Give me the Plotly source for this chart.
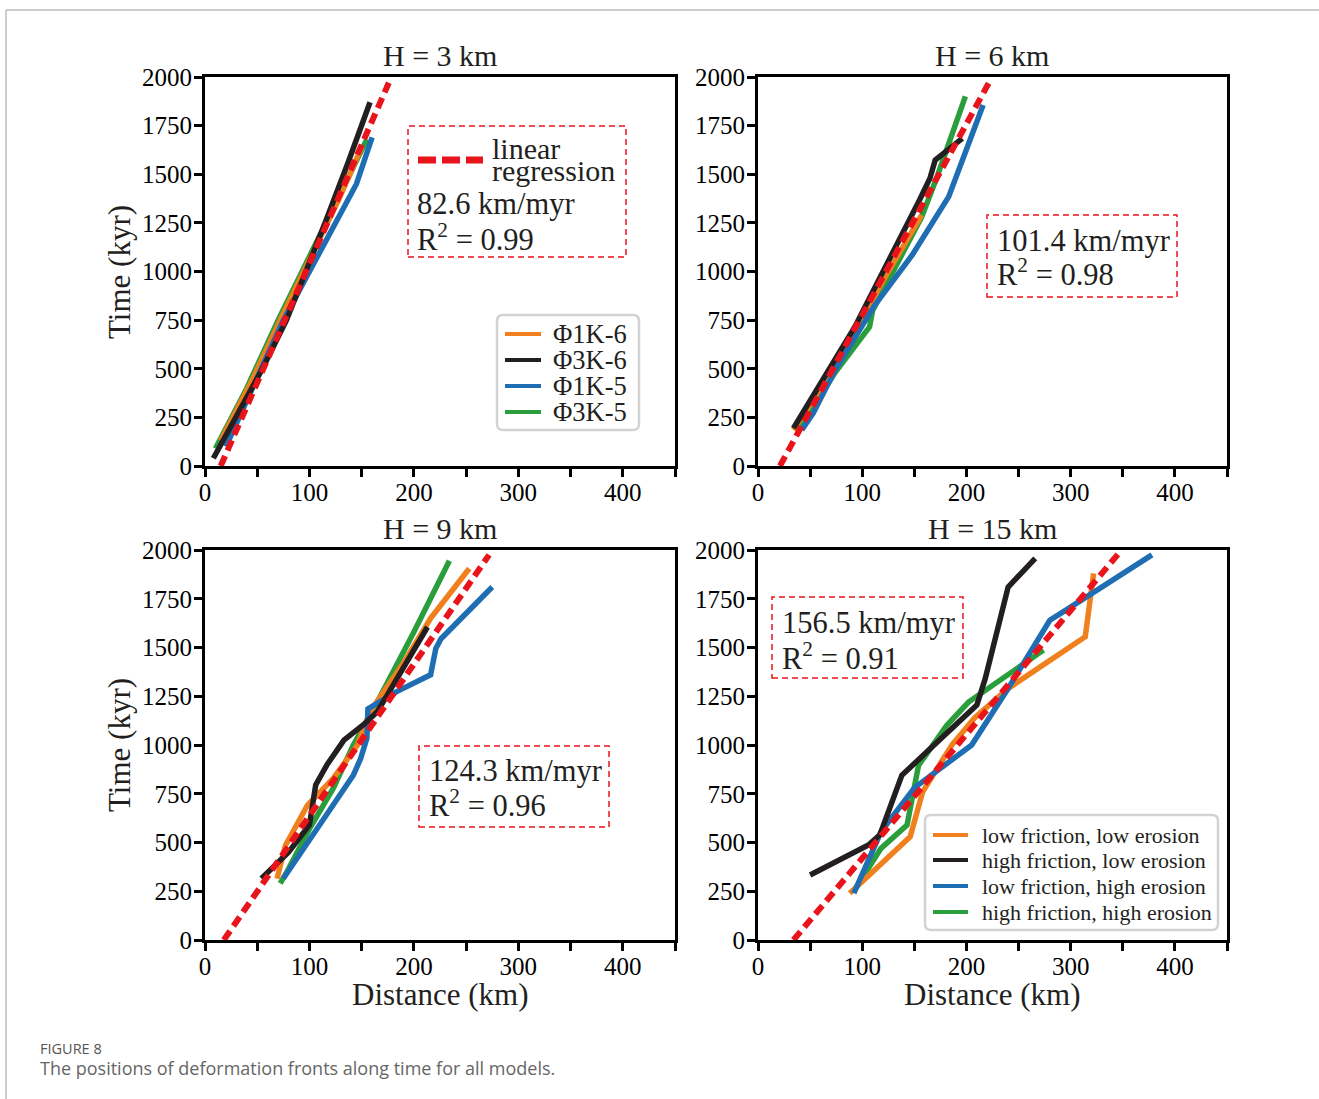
import plotly.graph_objects as go

W, H = 1319, 1099

# ---------------- data (distance km, time kyr) ----------------
# H = 3 km
h3_orange_x = [15, 45, 72, 100, 128, 150]
h3_orange_t = [130, 440, 750, 1060, 1370, 1640]
h3_black_x = [8, 30, 55, 78, 97, 115, 137, 158]
h3_black_t = [40, 250, 500, 750, 1000, 1250, 1560, 1870]
h3_blue_x = [20, 45, 75, 100, 125, 145, 160]
h3_blue_t = [100, 400, 750, 1000, 1250, 1450, 1690]
h3_green_x = [10, 40, 70, 98, 125, 155]
h3_green_t = [90, 400, 750, 1050, 1350, 1680]
h3_reg_x = [15, 176]
h3_reg_t = [0, 1970]

# H = 6 km
h6_orange_x = [34, 70, 100, 125, 157]
h6_orange_t = [185, 480, 760, 1000, 1290]
h6_black_x = [34, 93, 155, 165, 170, 178, 196]
h6_black_t = [194, 716, 1368, 1480, 1573, 1607, 1684]
h6_blue_x = [42, 53, 74, 111, 148, 183, 216]
h6_blue_t = [185, 272, 493, 819, 1085, 1385, 1856]
h6_green_x = [38, 74, 107, 110, 157, 172, 199]
h6_green_t = [175, 480, 715, 800, 1280, 1490, 1900]
h6_reg_x = [21, 223]
h6_reg_t = [0, 1985]

# H = 9 km
h9_orange_x = [69, 77, 98, 123, 146, 158, 190, 216, 253]
h9_orange_t = [315, 485, 690, 830, 1000, 1170, 1420, 1650, 1905]
h9_black_x = [54, 80, 100, 106, 117, 133, 152, 165, 213]
h9_black_t = [315, 450, 590, 795, 900, 1025, 1105, 1170, 1605]
h9_blue_x = [75, 142, 149, 155, 156, 172, 184, 216, 221, 226, 275]
h9_blue_t = [315, 845, 930, 1035, 1185, 1240, 1275, 1360, 1495, 1545, 1810]
h9_green_x = [72, 78, 100, 123, 142, 160, 200, 234]
h9_green_t = [290, 345, 570, 780, 1000, 1170, 1580, 1945]
h9_reg_x = [18, 272]
h9_reg_t = [0, 1975]

# H = 15 km
h15_orange_x = [88, 146, 158, 186, 208, 240, 314, 322]
h15_orange_t = [240, 530, 760, 1000, 1140, 1290, 1555, 1880]
h15_black_x = [50, 106, 117, 138, 210, 218, 240, 266]
h15_black_t = [333, 487, 540, 845, 1205, 1340, 1810, 1957]
h15_blue_x = [92, 118, 150, 205, 240, 280, 295, 378]
h15_blue_t = [240, 555, 780, 1000, 1290, 1640, 1690, 1975]
h15_green_x = [92, 118, 143, 154, 181, 202, 274]
h15_green_t = [250, 470, 590, 895, 1100, 1220, 1487]
h15_reg_x = [34, 348]
h15_reg_t = [0, 1995]

panel_titles = ["H = 3 km", "H = 6 km", "H = 9 km", "H = 15 km"]
speeds = ["82.6 km/myr", "101.4 km/myr", "124.3 km/myr", "156.5 km/myr"]
r2_values = ["0.99", "0.98", "0.96", "0.91"]
legend1_names = ["Φ1K-6", "Φ3K-6", "Φ1K-5", "Φ3K-5"]
legend2_names = ["low friction, low erosion", "high friction, low erosion",
                 "low friction, high erosion", "high friction, high erosion"]
x_ticks = [0, 100, 200, 300, 400]
y_ticks = [0, 250, 500, 750, 1000, 1250, 1500, 1750, 2000]

# ---------------- style ----------------
ORANGE = "#F0801E"
BLACK = "#231F20"
BLUE = "#1F6EB4"
GREEN = "#2A9E3C"
RED = "#E8131B"
SERIF = "Liberation Serif"
LW = 5.5
colors = [ORANGE, BLACK, BLUE, GREEN]


def px(x):
    return x / W


def py(y):
    return 1 - y / H


fig = go.Figure()

panels = [
    (h3_orange_x, h3_orange_t, h3_black_x, h3_black_t, h3_blue_x, h3_blue_t, h3_green_x, h3_green_t, h3_reg_x, h3_reg_t),
    (h6_orange_x, h6_orange_t, h6_black_x, h6_black_t, h6_blue_x, h6_blue_t, h6_green_x, h6_green_t, h6_reg_x, h6_reg_t),
    (h9_orange_x, h9_orange_t, h9_black_x, h9_black_t, h9_blue_x, h9_blue_t, h9_green_x, h9_green_t, h9_reg_x, h9_reg_t),
    (h15_orange_x, h15_orange_t, h15_black_x, h15_black_t, h15_blue_x, h15_blue_t, h15_green_x, h15_green_t, h15_reg_x, h15_reg_t),
]
panel_names = [legend1_names, legend1_names, legend1_names, legend2_names]
draw_order = [3, 0, 2, 1]  # green, orange, blue, black

for i, p in enumerate(panels):
    xa = "x" if i == 0 else f"x{i+1}"
    ya = "y" if i == 0 else f"y{i+1}"
    for k in draw_order:
        fig.add_trace(go.Scatter(
            x=p[2 * k], y=p[2 * k + 1], mode="lines", xaxis=xa, yaxis=ya,
            line=dict(color=colors[k], width=LW),
            name=panel_names[i][k], showlegend=False,
        ))
    fig.add_trace(go.Scatter(
        x=p[8], y=p[9], mode="lines", xaxis=xa, yaxis=ya,
        line=dict(color=RED, width=6, dash="11px,6px"),
        showlegend=False, name="linear regression",
    ))

# axes domains in pixels
xdom = [(205, 675), (758, 1227), (205, 675), (758, 1227)]
ydom = [(77, 466), (77, 466), (550, 940), (550, 940)]

axis_common = dict(
    showline=True, linewidth=3, linecolor="black", mirror=True,
    ticks="outside", ticklen=8, tickwidth=3, tickcolor="black",
    showgrid=False, zeroline=False, automargin=False,
    tickfont=dict(family=SERIF, size=25, color="black"),
)

layout_axes = {}
for i in range(4):
    xk = "xaxis" if i == 0 else f"xaxis{i+1}"
    yk = "yaxis" if i == 0 else f"yaxis{i+1}"
    xa = "x" if i == 0 else f"x{i+1}"
    ya = "y" if i == 0 else f"y{i+1}"
    layout_axes[xk] = dict(
        axis_common, domain=[px(xdom[i][0]), px(xdom[i][1])], anchor=ya,
        range=[0, 450], tickvals=x_ticks, ticklabelstandoff=-6,
        minor=dict(dtick=50, tick0=0, ticks="outside", ticklen=8, tickwidth=3, tickcolor="black"),
    )
    layout_axes[yk] = dict(
        axis_common, domain=[py(ydom[i][1]), py(ydom[i][0])], anchor=xa,
        range=[0, 2000], tickvals=y_ticks, ticklabelstandoff=-3,
    )

fig.update_layout(**layout_axes)

annotations = []
shapes = []


def text(t, x, y, size, xanchor="left", angle=0, family=SERIF, color=BLACK):
    annotations.append(dict(text=t, x=px(x), y=py(y), xref="paper", yref="paper",
                            showarrow=False, xanchor=xanchor, yanchor="middle", textangle=angle,
                            font=dict(family=family, size=size, color=color)))


title_pos = [(440, 55), (992, 55), (440, 528), (992, 528)]
for i, (tx, ty) in enumerate(title_pos):
    text(panel_titles[i], tx, ty, 30, xanchor="center")

for yy in (272, 745):
    text("Time (kyr)", 119, yy, 31, xanchor="center", angle=-90)
for xx in (440, 992):
    text("Distance (km)", xx, 994, 31, xanchor="center")

# regression boxes
boxes = [(408, 126, 626, 257), (987, 215, 1177, 297), (419, 746, 609, 827), (772, 597, 963, 678)]
text_pos = [(415, 204, 237), (995, 241, 273), (427, 771, 803), (780, 623, 656)]
for i, (x0, y0, x1, y1) in enumerate(boxes):
    shapes.append(dict(type="rect", xref="paper", yref="paper",
                       x0=px(x0), x1=px(x1), y0=py(y1), y1=py(y0),
                       line=dict(color=RED, width=1.5, dash="6px,4px"), fillcolor="rgba(0,0,0,0)"))
    tx, ty1, ty2 = text_pos[i]
    text(speeds[i], tx, ty1, 30.5)
    text("R<sup>2</sup> = " + r2_values[i], tx, ty2, 30.5)

# linear regression key in panel 1
shapes.append(dict(type="line", xref="paper", yref="paper",
                   x0=px(418), x1=px(483), y0=py(160), y1=py(160),
                   line=dict(color=RED, width=7, dash="18px,6px")))
text("linear", 490, 149, 30)
text("regression", 490, 171, 30)


# hand-placed legend boxes (matplotlib-style tight spacing)
def legend_box(x0, y0, x1, y1, rows_y, names, sx0, sx1, tx, size):
    r = 6
    path = (f"M {px(x0 + r)},{py(y0)} L {px(x1 - r)},{py(y0)} Q {px(x1)},{py(y0)} {px(x1)},{py(y0 + r)} "
            f"L {px(x1)},{py(y1 - r)} Q {px(x1)},{py(y1)} {px(x1 - r)},{py(y1)} "
            f"L {px(x0 + r)},{py(y1)} Q {px(x0)},{py(y1)} {px(x0)},{py(y1 - r)} "
            f"L {px(x0)},{py(y0 + r)} Q {px(x0)},{py(y0)} {px(x0 + r)},{py(y0)} Z")
    shapes.append(dict(type="path", path=path, xref="paper", yref="paper", layer="above",
                       line=dict(color="#D3D3D3", width=2.5), fillcolor="rgba(255,255,255,0.92)"))
    for k, ry in enumerate(rows_y):
        shapes.append(dict(type="line", xref="paper", yref="paper", layer="above",
                           x0=px(sx0), x1=px(sx1), y0=py(ry), y1=py(ry),
                           line=dict(color=colors[k], width=4)))
        text(names[k], tx, ry, size)


legend_box(497, 315, 639, 430, [334, 360, 386, 412], legend1_names, 505, 541, 551, 26.5)
legend_box(925, 815, 1218, 930, [835, 860, 886, 912], legend2_names, 933, 968, 980, 22)

# outer frame lines
shapes.append(dict(type="line", xref="paper", yref="paper", x0=px(6), x1=1, y0=py(10), y1=py(10),
                   line=dict(color="#BDBDBD", width=1.5)))
shapes.append(dict(type="line", xref="paper", yref="paper", x0=px(6), x1=px(6), y0=0, y1=py(10),
                   line=dict(color="#BDBDBD", width=1.5)))

# caption
text("FIGURE 8", 38, 1048, 14.5, family="Open Sans", color="#555555")
text("The positions of deformation fronts along time for all models.", 38, 1068, 18,
     family="Open Sans", color="#666666")

fig.update_layout(
    width=W, height=H,
    margin=dict(l=0, r=0, t=0, b=0, pad=0, autoexpand=False),
    paper_bgcolor="white", plot_bgcolor="white",
    annotations=annotations, shapes=shapes,
    showlegend=False,
)

fig.write_html("out.html")
